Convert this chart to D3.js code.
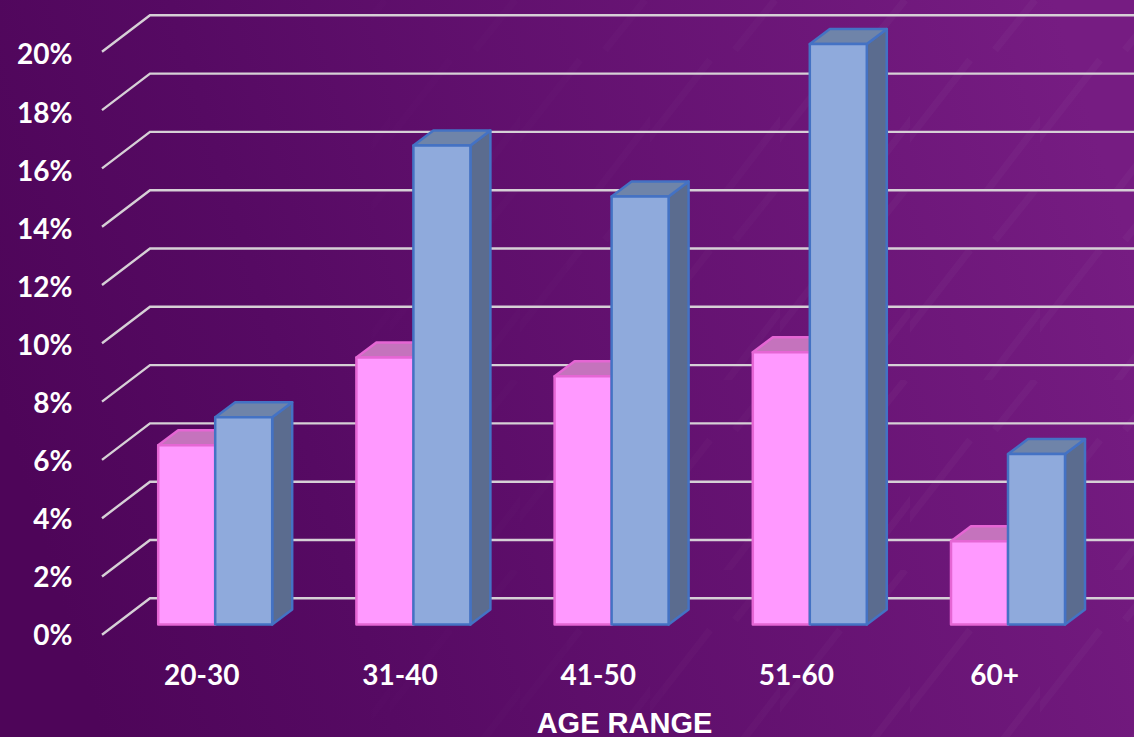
<!DOCTYPE html>
<html>
<meta charset="utf-8">
<style>
    html, body { margin: 0; padding: 0; background: #4e0559; overflow: hidden; }
    svg { display: block; }
    .tick text { font-family: Lato, sans-serif; font-weight: 700; fill: #fff; }
</style>
<body>
<svg width="1134" height="737"></svg>
<script src="https://d3js.org/d3.v7.min.js"></script>
<script>
    // values
    const categories = ["20-30", "31-40", "41-50", "51-60", "60+"];
    const seriesNames = ["pink", "blue"];
    const pinkValues = [6.18, 9.2, 8.55, 9.38, 2.87];
    const blueValues = [7.14, 16.5, 14.75, 20, 5.87];
    const yTicks = [0, 2, 4, 6, 8, 10, 12, 14, 16, 18, 20];

    const svg = d3.select("svg"),
        width = +svg.attr("width"),
        height = +svg.attr("height");

    // background
    const defs = svg.append("defs");
    const grad = defs.append("linearGradient").attr("id", "bg")
        .attr("x1", "0").attr("y1", "0.55").attr("x2", "1").attr("y2", "0.35");
    grad.append("stop").attr("offset", "0").attr("stop-color", "#4e0559");
    grad.append("stop").attr("offset", "0.25").attr("stop-color", "#560a63");
    grad.append("stop").attr("offset", "1").attr("stop-color", "#761c82");

    const streaks = defs.append("pattern").attr("id", "streaks")
        .attr("patternUnits", "userSpaceOnUse")
        .attr("width", 130).attr("height", 190);
    streaks.append("path").attr("d", "M-10,150 L60,60 M70,200 L135,115 M85,50 L125,0")
        .attr("stroke", "#fff").attr("stroke-opacity", 0.028).attr("stroke-width", 7).attr("fill", "none");

    // streaks only really show towards the right
    const fade = defs.append("linearGradient").attr("id", "fade");
    fade.append("stop").attr("offset", "0.2").attr("stop-color", "#000");
    fade.append("stop").attr("offset", "0.8").attr("stop-color", "#fff");
    defs.append("mask").attr("id", "fadeMask")
        .append("rect").attr("width", width).attr("height", height).attr("fill", "url(#fade)");

    svg.append("rect").attr("width", width).attr("height", height).attr("fill", "url(#bg)");
    svg.append("rect").attr("width", width).attr("height", height)
        .attr("fill", "url(#streaks)").attr("mask", "url(#fadeMask)");

    // 3d offsets: wall is behind the labels' plane, bars sit between
    const wallDx = 48;
    const barBaseDy = -9.5;
    const depth = {dx: 20, dy: -15};

    const y = d3.scaleLinear().domain([0, 20]).range([634, 53.5]);
    const yWall = d3.scaleLinear().domain([0, 20]).range([598.3, 15.3]);
    const x0 = d3.scaleBand().domain(categories).range([116.2, 1107.2]);
    const x1 = d3.scaleBand().domain(seriesNames).range([42, 156]);

    // gridlines, slanted part on the floor then along the back wall
    svg.append("g").selectAll("polyline")
        .data(yTicks)
        .enter().append("polyline")
        .attr("points", function (d) {
            return [[102, yWall(d) + 36.5], [102 + wallDx, yWall(d)], [width, yWall(d)]].join(" ");
        })
        .attr("fill", "none")
        .attr("stroke", "#d6d0d6")
        .attr("stroke-width", 2.4);

    // axes
    const yAxis = d3.axisLeft(y).tickValues(yTicks).tickSize(0).tickPadding(0)
        .tickFormat(function (d) { return d + "%"; });
    const gy = svg.append("g").attr("transform", "translate(72.5,1.5)").call(yAxis);
    gy.select(".domain").remove();
    gy.selectAll("text").style("font-size", "28px");

    const xAxis = d3.axisBottom(x0).tickSize(0).tickPadding(0);
    const gx = svg.append("g").attr("transform", "translate(-13.5,665)").call(xAxis);
    gx.select(".domain").remove();
    gx.selectAll("text").style("font-size", "28px");

    svg.append("text")
        .attr("x", 624.5)
        .attr("y", 733)
        .attr("text-anchor", "middle")
        .attr("font-family", "'Liberation Sans', Arial, sans-serif")
        .attr("font-weight", "bold")
        .attr("font-size", 29)
        .attr("fill", "#fff")
        .text("AGE RANGE");

    // bars
    const styles = {
        pink: {front: "#ff99ff", top: "#c573bd", side: "#c573bd", stroke: "#e566d4"},
        blue: {front: "#8faadc", top: "#6f84a9", side: "#5b6c8f", stroke: "#4472c4"}
    };
    const rows = categories.map(function (c, i) {
        return {category: c, values: [
            {key: "pink", value: pinkValues[i]},
            {key: "blue", value: blueValues[i]}
        ]};
    });

    const bar = svg.append("g").selectAll("g")
        .data(rows)
        .enter().append("g")
        .attr("transform", function (d) { return "translate(" + x0(d.category) + ",0)"; })
        .selectAll("g")
        .data(function (d) { return d.values; })
        .enter().append("g")
        .attr("stroke", function (d) { return styles[d.key].stroke; })
        .attr("stroke-width", 2.5)
        .attr("stroke-linejoin", "round");

    const frontTop = function (d) { return y(d.value) + barBaseDy; };
    const frontBottom = y(0) + barBaseDy;

    bar.append("path")
        .attr("fill", function (d) { return styles[d.key].side; })
        .attr("d", function (d) {
            const r = x1(d.key) + x1.bandwidth();
            return "M" + r + "," + frontTop(d) + "l" + depth.dx + "," + depth.dy +
                "V" + (frontBottom + depth.dy) + "l" + (-depth.dx) + "," + (-depth.dy) + "Z";
        });

    bar.append("path")
        .attr("fill", function (d) { return styles[d.key].top; })
        .attr("d", function (d) {
            return "M" + x1(d.key) + "," + frontTop(d) + "l" + depth.dx + "," + depth.dy +
                "h" + x1.bandwidth() + "l" + (-depth.dx) + "," + (-depth.dy) + "Z";
        });

    bar.append("rect")
        .attr("x", function (d) { return x1(d.key); })
        .attr("y", frontTop)
        .attr("width", x1.bandwidth())
        .attr("height", function (d) { return frontBottom - frontTop(d); })
        .attr("fill", function (d) { return styles[d.key].front; });
</script>
</body>
</html>
